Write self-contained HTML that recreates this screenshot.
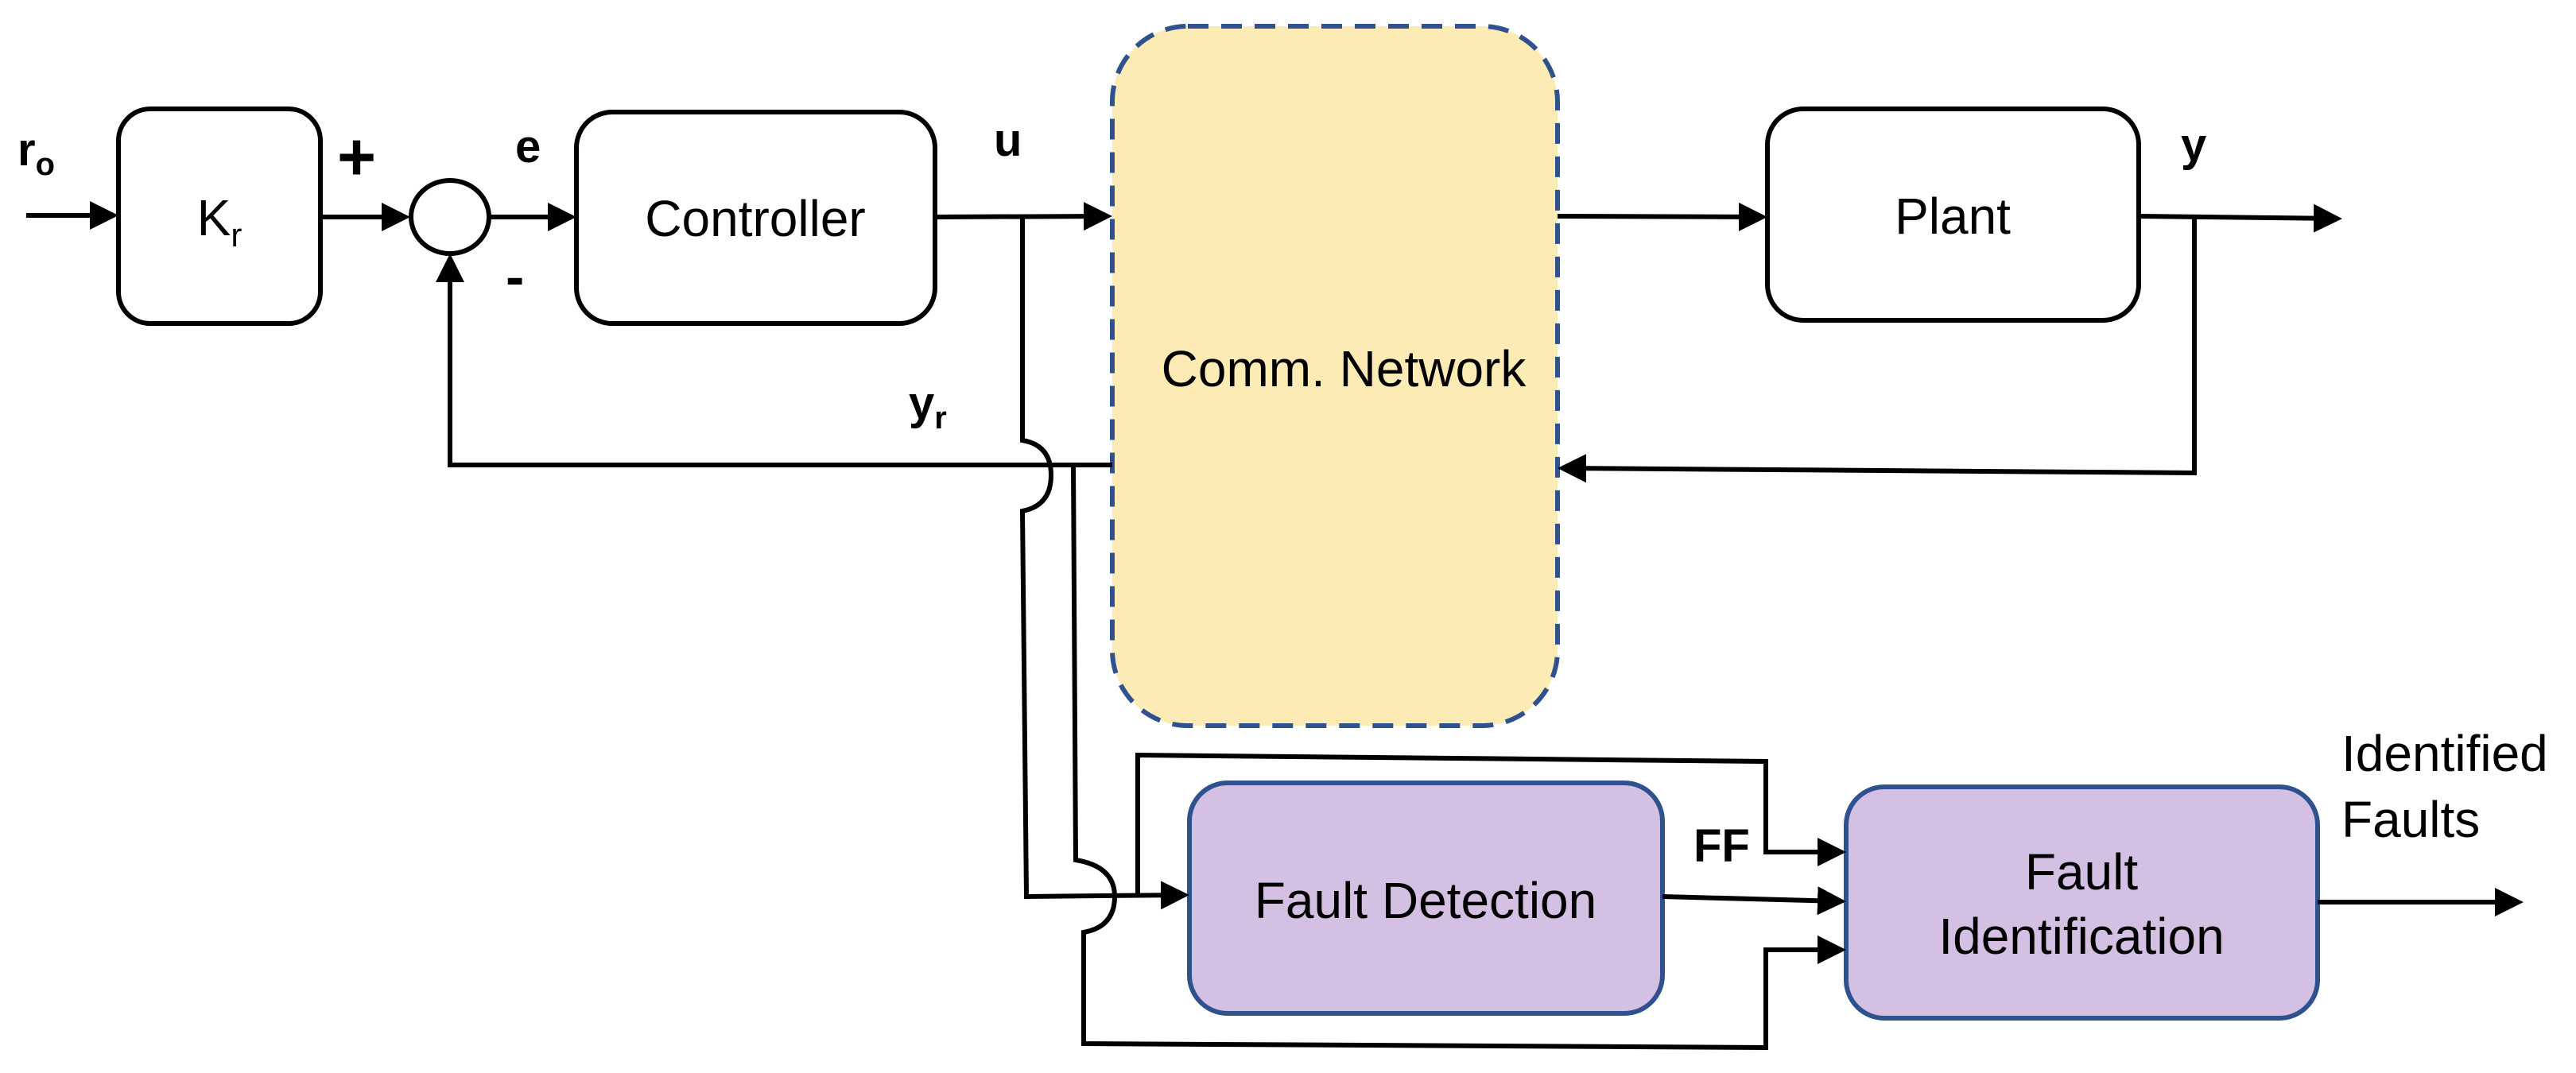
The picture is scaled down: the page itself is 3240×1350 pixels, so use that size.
<!DOCTYPE html>
<html><head><meta charset="utf-8"><style>
html,body{margin:0;padding:0;background:#fff;}
svg{display:block;}
text{font-family:"Liberation Sans",sans-serif;fill:#000;}
</style></head><body>
<svg width="3240" height="1350" viewBox="0 0 3240 1350" xmlns="http://www.w3.org/2000/svg">
<defs>
<marker id="a" markerWidth="6" markerHeight="6" refX="5" refY="3" orient="auto" markerUnits="strokeWidth">
<path d="M0,0 L6,3 L0,6 Z" fill="#000"/>
</marker>
</defs>
<rect x="1399" y="33" width="560" height="880" rx="95" fill="#fdebb6" stroke="#2f528f" stroke-width="6" stroke-dasharray="26,16"/>
<g fill="#fff" stroke="#000" stroke-width="6">
<rect x="149" y="137" width="254" height="270" rx="40"/>
<rect x="725" y="141" width="451" height="266" rx="45"/>
<rect x="2223" y="137" width="467" height="266" rx="45"/>
<ellipse cx="566" cy="273" rx="49" ry="46"/>
</g>
<g fill="#d3c0e2" stroke="#2f528f" stroke-width="6">
<rect x="1496" y="985" width="595" height="290" rx="48"/>
<rect x="2322" y="990" width="593" height="291" rx="48"/>
</g>
<g fill="none" stroke="#000" stroke-width="6" stroke-linejoin="miter">
<line x1="33" y1="271" x2="143" y2="271" marker-end="url(#a)"/>
<line x1="403" y1="273" x2="510" y2="273" marker-end="url(#a)"/>
<line x1="616" y1="273" x2="719" y2="273" marker-end="url(#a)"/>
<line x1="1176" y1="273" x2="1393" y2="272" marker-end="url(#a)"/>
<line x1="1959" y1="272" x2="2217" y2="273" marker-end="url(#a)"/>
<line x1="2690" y1="272" x2="2940" y2="275" marker-end="url(#a)"/>
<polyline points="2760,273 2760,595 1965,589" marker-end="url(#a)"/>
<polyline points="1399,585 566,585 566,325" marker-end="url(#a)"/>
<path d="M1286,273 L1286,554 Q1322,560 1322,598 Q1322,636 1286,643 L1291,1128 L1490,1126" marker-end="url(#a)"/>
<path d="M1350,585 L1353,1082 Q1402,1090 1402,1128 Q1402,1166 1363,1173 L1363,1313 L2221,1318 L2221,1195 L2316,1195" marker-end="url(#a)"/>
<polyline points="1431,1128 1431,950 2221,958 2221,1072 2316,1072" marker-end="url(#a)"/>
<line x1="2091" y1="1128" x2="2316" y2="1134" marker-end="url(#a)"/>
<line x1="2915" y1="1135" x2="3168" y2="1135" marker-end="url(#a)"/>
</g>
<g font-size="64" text-anchor="middle">
<text x="276" y="296">K<tspan font-size="42" dy="14">r</tspan></text>
<text x="950" y="297">Controller</text>
<text x="2456" y="294">Plant</text>
<text x="1690" y="486">Comm. Network</text>
<text x="1793" y="1155">Fault Detection</text>
<text x="2618" y="1119">Fault</text>
<text x="2618" y="1200">Identification</text>
</g>
<g font-size="58" font-weight="bold">
<text x="22" y="208">r<tspan font-size="40" dy="12">o</tspan></text>
<text x="424" y="226" font-size="84">+</text>
<text x="648" y="204">e</text>
<text x="636" y="372" font-size="70">-</text>
<text x="1250" y="196">u</text>
<text x="1143" y="527">y<tspan font-size="40" dy="12">r</tspan></text>
<text x="2743" y="202">y</text>
<text x="2130" y="1084">FF</text>
</g>
<g font-size="64">
<text x="2945" y="970">Identified</text>
<text x="2945" y="1053">Faults</text>
</g>
</svg>
</body></html>
